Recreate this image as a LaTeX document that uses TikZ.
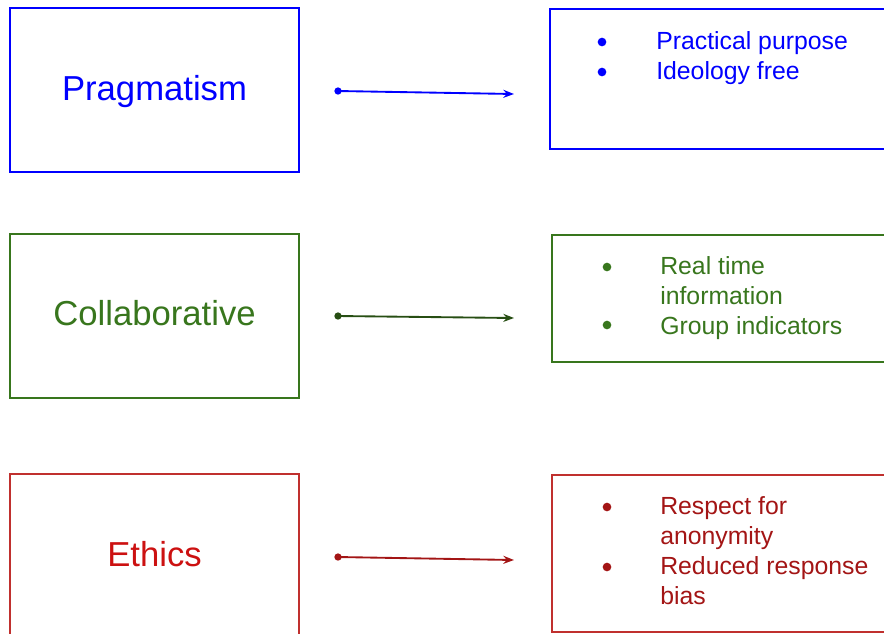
\documentclass[tikz,border=0pt]{standalone}
\usepackage{fontspec}
\setmainfont{Liberation Sans}
\usetikzlibrary{arrows.meta}
\definecolor{pblue}{HTML}{0000FF}
\definecolor{cgreen}{HTML}{38761D}
\definecolor{cgreendark}{HTML}{274E13}
\definecolor{ered}{HTML}{CC1111}
\definecolor{eredbox}{HTML}{C0302E}
\definecolor{edark}{HTML}{A31515}
\begin{document}
\begin{tikzpicture}[x=0.75pt,y=-0.75pt,
  box/.style={draw,line width=1.3pt,rectangle,inner sep=0pt},
  title/.style={anchor=base,font=\fontsize{26}{30}\selectfont,inner sep=0pt},
  item/.style={anchor=base west,font=\fontsize{18.6}{22.5}\selectfont,inner sep=0pt},
  dotmark/.style={circle,fill,inner sep=0pt,minimum size=6.5pt},
  link/.style={line width=1.4pt,-{Stealth[length=8pt,width=6pt]}},
  startdot/.style={circle,fill,inner sep=0pt,minimum size=5.5pt}]
\useasboundingbox (0,0) rectangle (884,633);

% left column: the three principles
\node[box,pblue,minimum width=216.75pt,minimum height=123pt] (pbox) at (154.5,90) {};
\node[box,cgreen,minimum width=216.75pt,minimum height=123pt] (cbox) at (154.5,316) {};
\node[box,eredbox,minimum width=216.75pt,minimum height=123pt] (ebox) at (154.5,556) {};
\node[title,pblue] (pt) at (154.5,100) {Pragmatism};
\node[title,cgreen] (ct) at (154.5,325) {Collaborative};
\node[title,ered] (et) at (154.5,566) {Ethics};

% right column: what each principle brings
\node[box,pblue,anchor=north west,minimum width=260pt,minimum height=105pt] (pr) at (549,8) {};
\node[box,cgreen,anchor=north west,minimum width=260pt,minimum height=95.25pt] (cr) at (551,234) {};
\node[box,eredbox,anchor=north west,minimum width=260pt,minimum height=117.75pt] (er) at (551,474) {};

\node[dotmark,pblue] (pb1) at (602,42) {};
\node[dotmark,pblue] (pb2) at (602,72) {};
\node[item,pblue] (pi1) at (656,49) {Practical purpose};
\node[item,pblue] (pi2) at (656,79) {Ideology free};

\node[dotmark,cgreen] (cb1) at (607,267) {};
\node[dotmark,cgreen] (cb2) at (607,325) {};
\node[item,cgreen] (ci1) at (660,274) {Real time};
\node[item,cgreen] (ci2) at (660,304) {information};
\node[item,cgreen] (ci3) at (660,334) {Group indicators};

\node[dotmark,edark] (eb1) at (607,507) {};
\node[dotmark,edark] (eb2) at (607,567) {};
\node[item,edark] (ei1) at (660,514) {Respect for};
\node[item,edark] (ei2) at (660,544) {anonymity};
\node[item,edark] (ei3) at (660,574) {Reduced response};
\node[item,edark] (ei4) at (660,604) {bias};

% connectors
\coordinate (pa) at (338,91);  \coordinate (pz) at (514,94);
\coordinate (ca) at (338,316); \coordinate (cz) at (514,318);
\coordinate (ea) at (338,557); \coordinate (ez) at (514,560);
\node[startdot,pblue] at (pa) {};
\node[startdot,cgreendark] at (ca) {};
\node[startdot,edark] at (ea) {};
\draw[link,pblue] (pa) -- (pz);
\draw[link,cgreendark] (ca) -- (cz);
\draw[link,edark] (ea) -- (ez);
\end{tikzpicture}
\end{document}
